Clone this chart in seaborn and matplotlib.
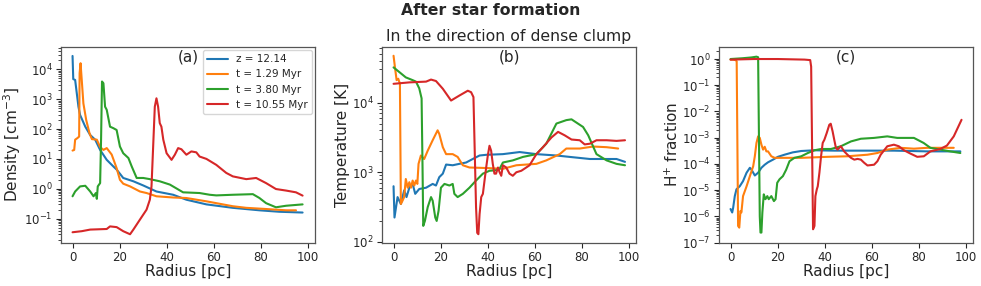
import matplotlib
matplotlib.use("Agg")
import matplotlib.pyplot as plt
import seaborn as sns
import pandas as pd

labels = ["z = 12.14", "t = 1.29 Myr", "t = 3.80 Myr", "t = 10.55 Myr"]
colors = ["#1f77b4", "#ff7f0e", "#2ca02c", "#d62728"]

# ---------------- Panel (a): density ----------------
dens_r0 = [0, 0.3, 1.1, 2.5, 3.2, 5.4, 7.5, 9.6, 11.7, 14.5, 17.3, 18.7, 21.5, 25.8, 30, 35.6, 42.7, 48.3, 56.8, 68, 79.3, 87.7, 97.6]
dens_v0 = [2.8e4, 4.7e3, 4.4e3, 560, 295, 120, 63, 44, 20, 9.3, 5.6, 4.4, 2.3, 1.78, 1.29, 0.81, 0.63, 0.43, 0.30, 0.23, 0.19, 0.17, 0.16]
dens_r1 = [0, 0.7, 1.1, 2.1, 2.8, 3.0, 3.4, 3.9, 4.6, 5.8, 7.2, 8.2, 10.3, 11.7, 13.1, 14.5, 16.6, 18.7, 20.1, 21.5, 24.4, 28.6, 31.4, 35.6, 42.7, 48.3, 56.8, 68, 73.7, 82.1, 90.6, 94.8]
dens_v1 = [19, 20, 44, 50, 56, 7.4e3, 1.6e4, 4.4e3, 720, 200, 72, 46, 44, 25, 20, 23, 14, 4.9, 2.0, 1.48, 1.2, 0.81, 0.72, 0.56, 0.51, 0.49, 0.38, 0.26, 0.23, 0.21, 0.19, 0.19]
dens_r2 = [0, 1.1, 3.2, 5.4, 7.5, 8.9, 9.9, 10.3, 10.7, 11.7, 12.1, 12.5, 13.1, 13.8, 14.5, 15.9, 17.3, 18.7, 20.1, 21.5, 23.7, 25.1, 27.2, 30, 32.8, 37, 41.3, 46.9, 53.9, 58.2, 61, 68, 76.5, 79.3, 82.1, 86.3, 90.6, 97.6]
dens_v2 = [0.56, 0.81, 1.2, 1.26, 0.81, 0.56, 0.72, 0.46, 1.2, 1.55, 44, 3.9e3, 3.4e3, 560, 440, 120, 107, 93, 26, 15.5, 10.7, 5.6, 2.3, 2.3, 2.1, 1.78, 1.38, 0.76, 0.72, 0.63, 0.60, 0.63, 0.66, 0.49, 0.33, 0.24, 0.27, 0.30]
dens_r3 = [0, 3.9, 7.5, 14.5, 15.9, 18.7, 21.5, 24.4, 25.8, 28.6, 31.4, 32.8, 33.5, 34.2, 34.9, 35.6, 36.3, 37, 37.7, 38.5, 39.9, 42, 43.4, 44.8, 46.2, 48.3, 50.4, 52.5, 53.9, 56.8, 61, 65.2, 68, 73.7, 77.9, 82.1, 86.3, 90.6, 94.8, 97.6]
dens_v3 = [0.035, 0.038, 0.043, 0.045, 0.055, 0.052, 0.038, 0.030, 0.043, 0.093, 0.20, 0.43, 1.2, 26, 560, 1.07e3, 560, 158, 120, 44, 15.5, 9.3, 13.8, 23, 21, 13.8, 17.8, 16.6, 12, 10, 6.3, 3.4, 2.6, 2.1, 2.3, 1.55, 0.98, 0.87, 0.76, 0.59]

# ---------------- Panel (b): temperature ----------------
temp_r0 = [0, 0.4, 1.7, 3.1, 4.5, 5.5, 6.7, 8.1, 9.2, 10.9, 13.8, 16.6, 18, 19.4, 20.9, 22.3, 25.1, 27.9, 30.8, 33.6, 36.5, 39.3, 46.4, 53.5, 60.6, 69.1, 74.8, 83.3, 90.4, 94.6, 98.2]
temp_v0 = [630, 224, 440, 350, 550, 440, 600, 680, 490, 575, 600, 680, 645, 850, 955, 1290, 1260, 1320, 1380, 1550, 1740, 1780, 1820, 1950, 1820, 1740, 1660, 1550, 1550, 1550, 1410]
temp_r1 = [0, 0.6, 1.3, 2.0, 2.4, 2.7, 3.1, 3.8, 4.5, 5.2, 6.0, 6.7, 7.4, 8.1, 8.8, 9.5, 10.1, 10.6, 11.6, 13, 14.5, 16.6, 18.7, 19.4, 20.9, 22.3, 25.1, 27.2, 29.4, 32.2, 39.3, 46.4, 52.1, 60.6, 64.8, 70.5, 73.3, 79, 84.7, 90.4, 95.3]
temp_v1 = [4.7e4, 3.2e4, 2.1e4, 2.2e4, 2.0e4, 1.9e4, 350, 390, 440, 800, 600, 720, 600, 760, 645, 760, 680, 1320, 1740, 1550, 2040, 2880, 4000, 3550, 2290, 1820, 1820, 1660, 1260, 1170, 1150, 1120, 1260, 1320, 1480, 1820, 2190, 2190, 2340, 2290, 2190]
temp_r2 = [0, 2.4, 5.2, 8.1, 9.5, 10.9, 11.9, 12.3, 12.6, 13.3, 14.5, 15.9, 16.6, 17.7, 18.3, 19.1, 20.1, 21.6, 23.7, 25.1, 25.8, 27.2, 29.4, 32.2, 35, 37.9, 40.7, 43.5, 45, 46.4, 50.6, 54.9, 60.6, 64.8, 69.1, 73.3, 75.5, 80.4, 82.6, 86.1, 90.4, 94.6, 98.2]
temp_v2 = [3.2e4, 2.75e4, 2.3e4, 2.1e4, 2.0e4, 1.6e4, 1.15e4, 1170, 170, 200, 316, 440, 390, 224, 200, 280, 600, 680, 645, 680, 490, 440, 490, 600, 760, 955, 1050, 1070, 1120, 1380, 1480, 1660, 1820, 2570, 5000, 5600, 5750, 4470, 3390, 1820, 1480, 1320, 1260]
temp_r3 = [0, 6.7, 13.8, 15.9, 18, 20.9, 24.4, 27.9, 31.5, 32.9, 33.9, 34.5, 35, 35.5, 36, 36.5, 37.2, 37.9, 38.6, 39.3, 40, 40.7, 41.4, 42.1, 42.8, 43.5, 44.3, 45, 45.7, 46.4, 47.8, 49.2, 50.6, 52.1, 54.2, 56.3, 57.7, 60.6, 63.4, 67, 69.8, 72.6, 75.5, 79, 81.1, 83.3, 86.1, 90.4, 94.6, 98.2]
temp_v3 = [1.86e4, 1.95e4, 2.0e4, 2.14e4, 2.04e4, 1.58e4, 1.07e4, 1.26e4, 1.48e4, 1.41e4, 1.2e4, 1660, 316, 135, 129, 251, 440, 490, 760, 1170, 1740, 2400, 2040, 1320, 955, 955, 1170, 1000, 890, 1260, 1170, 955, 890, 1000, 1050, 1170, 1260, 1820, 2290, 3160, 3800, 3390, 2950, 2880, 2510, 2570, 2880, 2880, 2820, 2880]

# ---------------- Panel (c): H+ fraction ----------------
hp_r0 = [0, 0.7, 1.1, 1.8, 2.5, 3.9, 5.3, 6.8, 8.2, 8.9, 10.3, 11.7, 13.1, 14.5, 15.9, 18, 20.1, 22.9, 26.4, 30, 35.6, 44, 55.3, 69.3, 83.4, 97.5]
hp_v0 = [1.9e-6, 1.4e-6, 2.1e-6, 5.9e-6, 1.07e-5, 1.4e-5, 2.2e-5, 4.6e-5, 7.1e-5, 6.0e-5, 3.6e-5, 4.6e-5, 7.1e-5, 9.3e-5, 1.15e-4, 1.45e-4, 1.86e-4, 2.24e-4, 2.75e-4, 3.1e-4, 3.3e-4, 3.2e-4, 3.2e-4, 3.2e-4, 3.0e-4, 3.0e-4]
hp_r1 = [0, 1.1, 2.1, 2.6, 3.2, 3.7, 4.2, 4.6, 5.3, 6.8, 8.2, 9.6, 10.3, 11, 11.7, 12.4, 13.1, 13.8, 14.5, 15.2, 15.9, 17.3, 18.7, 22.9, 30, 41.2, 49.6, 58.1, 62.3, 66.5, 72.2, 77.8, 83.4, 94.7]
hp_v1 = [0.95, 0.95, 0.91, 0.83, 4.3e-7, 3.7e-7, 1.6e-6, 1.4e-6, 5.9e-6, 1.4e-5, 3.4e-5, 8.1e-5, 1.95e-4, 6.3e-4, 1.12e-3, 9.8e-4, 5.4e-4, 3.5e-4, 4.5e-4, 3.0e-4, 3.0e-4, 1.95e-4, 1.7e-4, 1.7e-4, 1.7e-4, 1.86e-4, 1.95e-4, 2.24e-4, 2.6e-4, 3.5e-4, 4.1e-4, 3.8e-4, 4.1e-4, 4.1e-4]
hp_r2 = [0, 5, 8.9, 11, 11.7, 12.4, 12.7, 13.1, 13.5, 14.1, 14.8, 15.6, 16.2, 17.3, 18.4, 19.1, 19.8, 20.8, 22.2, 23.6, 25, 27.1, 30, 32.8, 35.6, 38.4, 42.6, 46.8, 51.1, 55.3, 60.9, 66.5, 70.7, 77.8, 81.9, 84.8, 89, 93.2, 97.5]
hp_v2 = [1.0, 1.07, 1.15, 1.23, 1.17, 1.0e-6, 2.4e-7, 2.4e-7, 1.4e-6, 6.9e-6, 4.5e-6, 5.9e-6, 4.5e-6, 5.9e-6, 3.8e-6, 4.5e-6, 1.9e-5, 2.6e-5, 3.4e-5, 6.0e-5, 1.26e-4, 1.7e-4, 1.95e-4, 2.6e-4, 3.3e-4, 3.7e-4, 3.7e-4, 4.7e-4, 7.2e-4, 9.1e-4, 9.8e-4, 1.12e-3, 9.8e-4, 9.8e-4, 6.3e-4, 4.1e-4, 3.5e-4, 3.0e-4, 2.6e-4]
hp_r3 = [0, 10, 20, 31.4, 33.8, 34.2, 35, 35.6, 36, 36.6, 37, 37.7, 38.4, 39.1, 39.8, 40.8, 41.9, 42.5, 43.3, 44, 44.7, 45.4, 46.8, 48.2, 49.6, 51.1, 52.5, 53.9, 55.3, 56.7, 58.1, 60.9, 62.3, 63.7, 66.5, 69.3, 71.4, 73.6, 76.4, 79.2, 82, 84.8, 89, 91.8, 94.7, 98]
hp_v3 = [0.95, 1.0, 1.0, 0.95, 0.91, 0.51, 3.2e-7, 4.3e-7, 5.9e-6, 1.07e-5, 1.4e-5, 4.6e-5, 1.95e-4, 6.3e-4, 8.3e-4, 1.5e-3, 3.1e-3, 3.4e-3, 1.74e-3, 8.3e-4, 4.1e-4, 3.5e-4, 4.7e-4, 3.0e-4, 2.24e-4, 1.7e-4, 1.45e-4, 1.55e-4, 1.45e-4, 1.1e-4, 8.7e-5, 9.3e-5, 1.26e-4, 2.24e-4, 4.7e-4, 5.4e-4, 4.7e-4, 3.3e-4, 2.45e-4, 1.86e-4, 1.95e-4, 3.0e-4, 3.7e-4, 5.0e-4, 1.12e-3, 4.8e-3]

panels = [
    ([dens_r0, dens_r1, dens_r2, dens_r3], [dens_v0, dens_v1, dens_v2, dens_v3],
     "Density [cm$^{-3}$]", "(a)", (10**-1.8, 10**4.75)),
    ([temp_r0, temp_r1, temp_r2, temp_r3], [temp_v0, temp_v1, temp_v2, temp_v3],
     "Temperature [K]", "(b)", (98, 6.3e4)),
    ([hp_r0, hp_r1, hp_r2, hp_r3], [hp_v0, hp_v1, hp_v2, hp_v3],
     "H$^{+}$ fraction", "(c)", (1e-7, 2.9)),
]

sns.set_style("ticks")
plt.rcParams["font.family"] = ["DejaVu Sans"]

fig = plt.figure(figsize=(9.81, 2.86), dpi=100)
lefts = [61 / 981, 382 / 981, 719 / 981]
axes = [fig.add_axes([l, 0.152, 0.259, 0.684]) for l in lefts]

for ax, (rs, vs, ylab, tag, ylim) in zip(axes, panels):
    for r, v, lab, col in zip(rs, vs, labels, colors):
        df = pd.DataFrame({"Radius": r, "Value": v})
        sns.lineplot(data=df, x="Radius", y="Value", ax=ax, color=col, lw=1.5,
                     label=lab, estimator=None, sort=False)
    ax.set_yscale("log")
    ax.set_ylim(*ylim)
    ax.set_xlim(-4.9, 102.9)
    ax.set_xticks([0, 20, 40, 60, 80, 100])
    ax.set_xlabel("Radius [pc]", fontsize=11, labelpad=0)
    ax.set_ylabel(ylab, fontsize=11, labelpad=1)
    ax.tick_params(labelsize=8.5, pad=2.5)
    ax.text(0.5, 0.985, tag, transform=ax.transAxes, ha="center", va="top", fontsize=11)
    for s in ax.spines.values():
        s.set_color("#555555")
        s.set_linewidth(0.9)

axes[0].legend(loc="upper right", fontsize=7.5, frameon=True, borderaxespad=0.3)
axes[1].legend_.remove()
axes[2].legend_.remove()
axes[1].set_title("In the direction of dense clump", fontsize=11.3, pad=4)
fig.suptitle("After star formation", fontsize=11.3, fontweight="bold", y=0.99)

fig.savefig("out.png", dpi=100)
